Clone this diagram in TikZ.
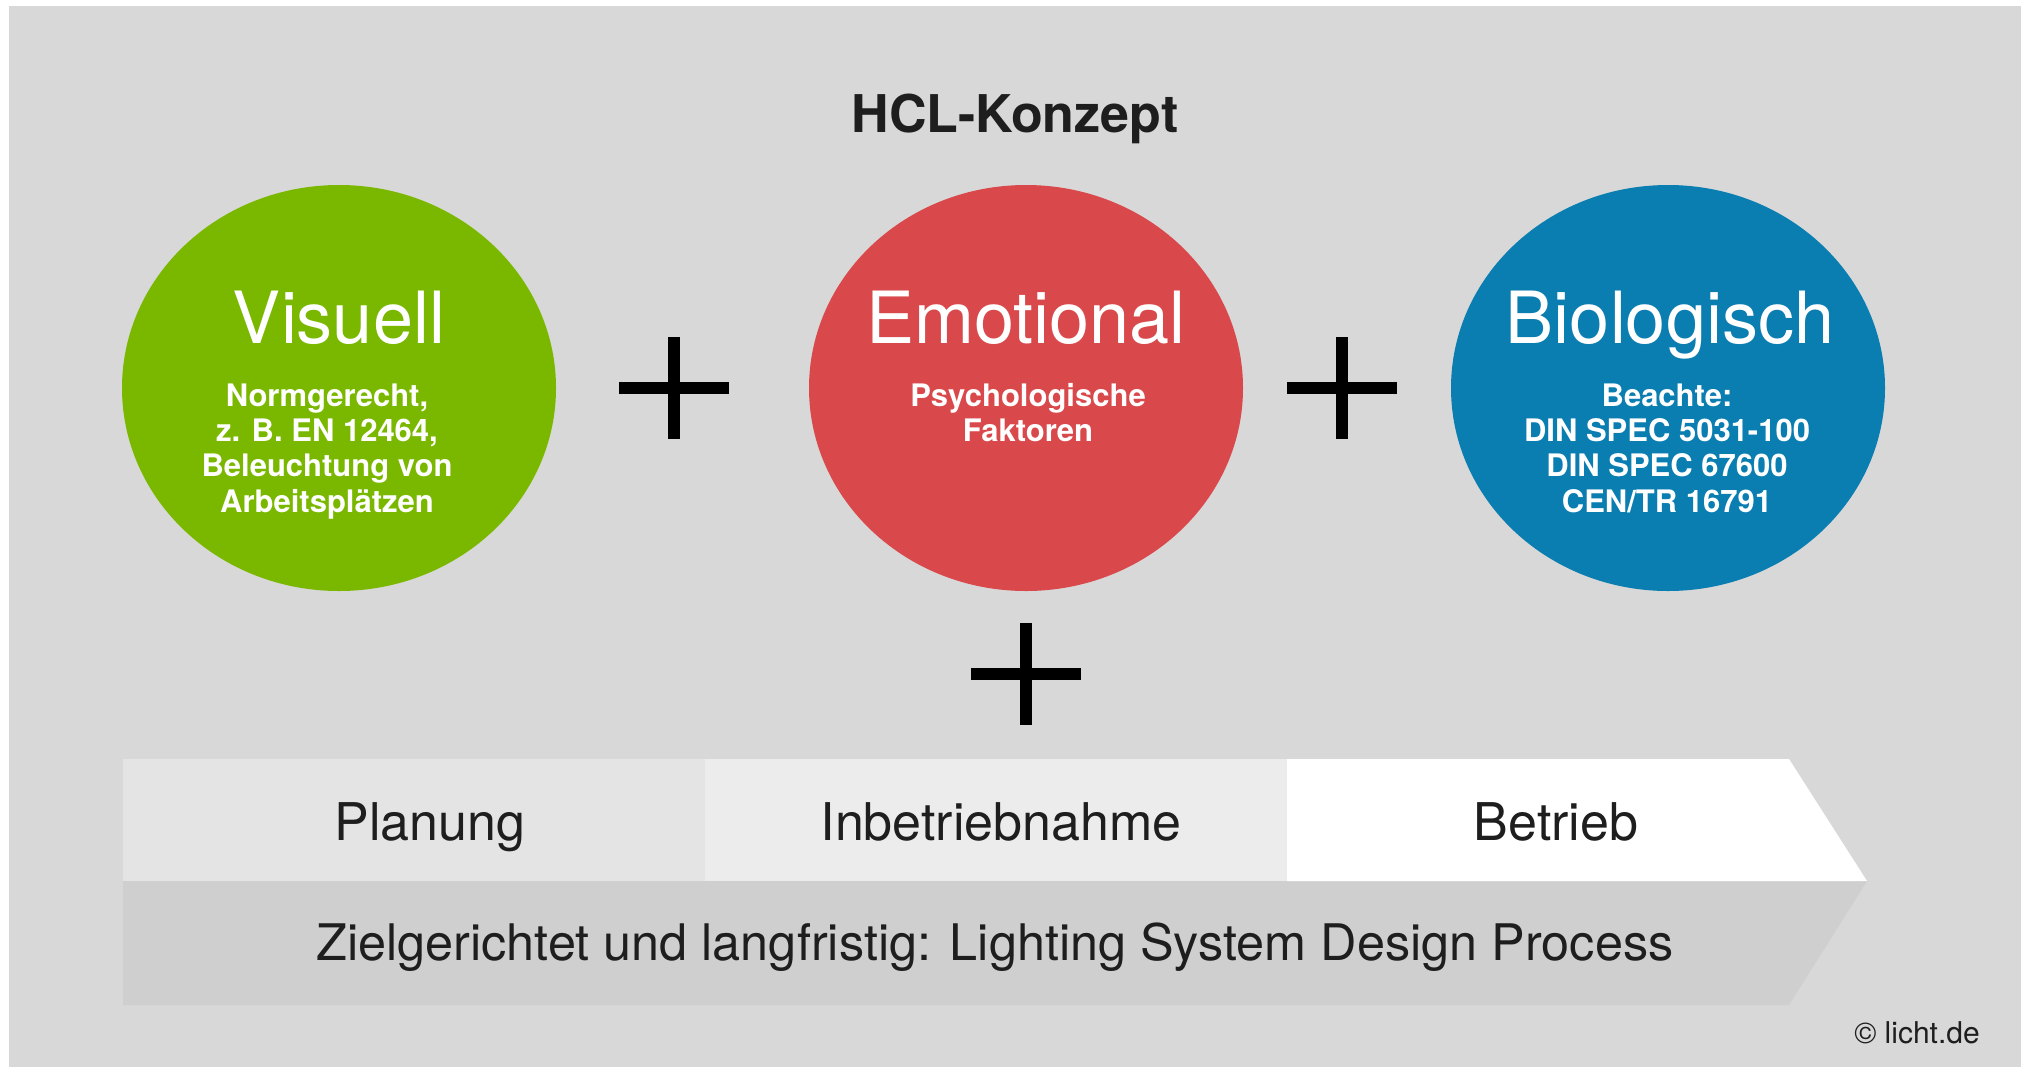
\documentclass[tikz,border=0pt]{standalone}
\usepackage{fontspec}
\setmainfont{TeX Gyre Heros}
\usetikzlibrary{shapes.geometric}

\definecolor{bggray}{HTML}{D8D8D8}
\definecolor{cellA}{HTML}{E4E4E4}
\definecolor{cellB}{HTML}{ECECEC}
\definecolor{bandlow}{HTML}{CFCFCF}
\definecolor{hclgreen}{HTML}{7AB800}
\definecolor{hclred}{HTML}{D9484A}
\definecolor{hclblue}{HTML}{0A7DB1}
\definecolor{ink}{HTML}{1E1E1E}

\begin{document}
\begin{tikzpicture}[x=0.5pt,y=-0.5pt,
    bubble/.style={ellipse,minimum width=217pt,minimum height=203pt,inner sep=0pt},
    head/.style={text=white,anchor=base,font=\fontsize{36}{40}\selectfont},
    info/.style={text=white,anchor=north,inner sep=0pt,align=center,font=\bfseries\fontsize{15.5}{17.7}\selectfont},
    plus/.style={line width=6pt},
    phase/.style={anchor=base,text=ink,font=\fontsize{26}{30}\selectfont}]
    \useasboundingbox (0,0) rectangle (2028,1067);
    \fill[white] (0,0) rectangle (2028,1067);
    \fill[bggray] (9,6) rectangle (2021,1067);

    \node[anchor=base,text=ink,font=\bfseries\fontsize{26}{30}\selectfont] (title) at (1015,132) {HCL-Konzept};

    % the three circles
    \node[bubble,fill=hclgreen] (vis) at (339,388) {};
    \node[bubble,fill=hclred] (emo) at (1026,388) {};
    \node[bubble,fill=hclblue] (bio) at (1668,388) {};

    \node[head] (vis-t) at (339,343) {Visuell};
    \node[head] (emo-t) at (1026,343) {Emotional};
    \node[head] (bio-t) at (1670,343) {Biologisch};

    \node[info] (vis-i) at (327,383) {Normgerecht,\\z. B. EN 12464,\\Beleuchtung von\\Arbeitsplätzen};
    \node[info] (emo-i) at (1028,383) {Psychologische\\Faktoren};
    \node[info] (bio-i) at (1667,383) {Beachte:\\DIN SPEC 5031-100\\DIN SPEC 67600\\CEN/TR 16791};

    % plus signs
    \coordinate (p1) at (674,388);
    \coordinate (p2) at (1342,388);
    \coordinate (p3) at (1026,674);
    \foreach \p in {p1,p2,p3} {
        \draw[plus] ([xshift=-27.5pt]\p) -- ([xshift=27.5pt]\p);
        \draw[plus] ([yshift=-25.5pt]\p) -- ([yshift=25.5pt]\p);
    }

    % process band
    \fill[bandlow] (123,881) -- (1867,881) -- (1789,1005) -- (123,1005) -- cycle;
    \fill[cellA] (123,759) rectangle (705,881);
    \fill[cellB] (705,759) rectangle (1287,881);
    \fill[white] (1287,759) -- (1789,759) -- (1867,881) -- (1287,881) -- cycle;

    \node[phase] (plan) at (430,840) {Planung};
    \node[phase] (ibn) at (1001,840) {Inbetriebnahme};
    \node[phase] (betr) at (1556,840) {Betrieb};
    \node[phase,font=\fontsize{25.2}{30}\selectfont] (lsdp) at (995,960) {Zielgerichtet und langfristig: Lighting System Design Process};

    \node[anchor=base,text=ink,font=\fontsize{15}{18}\selectfont] (copy) at (1917,1043) {© licht.de};
\end{tikzpicture}
\end{document}
